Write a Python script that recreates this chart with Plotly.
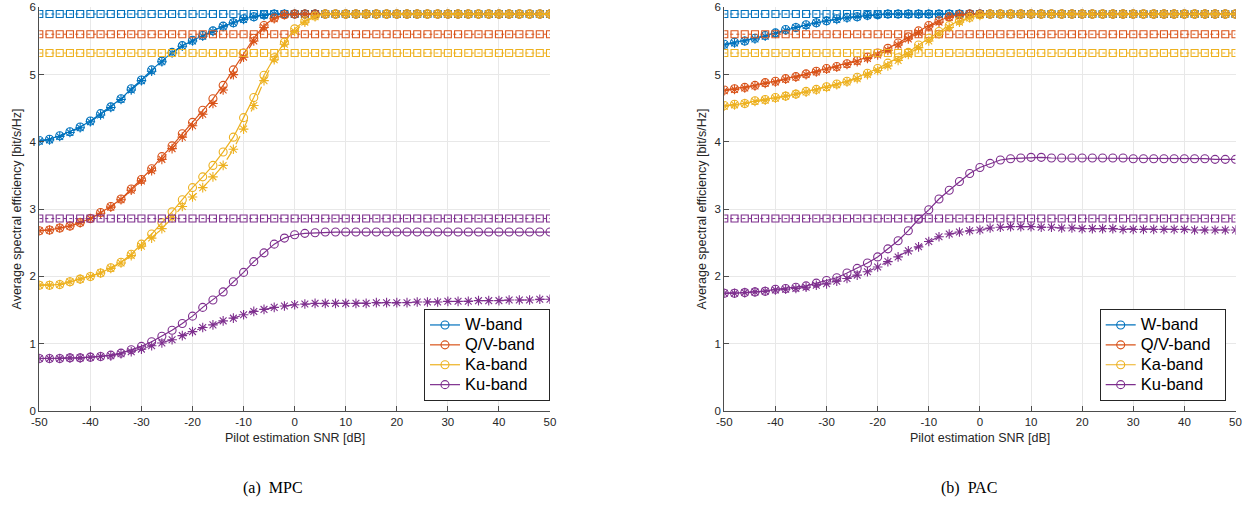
import plotly.graph_objects as go

# Pilot estimation SNR grid [dB]
SNR_DB = list(range(-50, 51, 2))
TICK_X = [-50, -40, -30, -20, -10, 0, 10, 20, 30, 40, 50]
TICK_X_TEXT = ["-50", "-40", "-30", "-20", "-10", "0", "10", "20", "30", "40", "50"]
TICK_Y = [0, 1, 2, 3, 4, 5, 6]

BANDS = ["W-band", "Q/V-band", "Ka-band", "Ku-band"]
COLORS = ["#0072BD", "#D95319", "#EDB120", "#7E2F8E"]

# Perfect-CSI reference level per band [bit/s/Hz]
BOUND = [5.90, 5.60, 5.32, 2.86]

# ---- (a) MPC ----
MPC_O_W = [4.02, 4.04, 4.09, 4.15, 4.22, 4.31, 4.42, 4.52, 4.64, 4.79, 4.92, 5.07, 5.20, 5.33,
           5.43, 5.51, 5.58, 5.65, 5.72, 5.77, 5.83, 5.86, 5.89] + [5.90] * 28
MPC_X_W = [4.01, 4.03, 4.08, 4.14, 4.21, 4.30, 4.40, 4.51, 4.63, 4.77, 4.91, 5.05, 5.19, 5.32,
           5.42, 5.50, 5.57, 5.64, 5.71, 5.77, 5.82, 5.86, 5.88] + [5.90] * 28
MPC_O_QV = [2.68, 2.69, 2.72, 2.75, 2.80, 2.86, 2.95, 3.04, 3.15, 3.30, 3.44, 3.60, 3.78, 3.94,
            4.12, 4.29, 4.47, 4.64, 4.84, 5.07, 5.32, 5.54, 5.73, 5.84, 5.89] + [5.90] * 26
MPC_X_QV = [2.68, 2.69, 2.72, 2.75, 2.80, 2.86, 2.94, 3.03, 3.14, 3.28, 3.42, 3.57, 3.74, 3.90,
            4.07, 4.24, 4.41, 4.57, 4.77, 5.00, 5.26, 5.50, 5.70, 5.83, 5.89] + [5.90] * 26
MPC_O_KA = [1.87, 1.87, 1.88, 1.92, 1.96, 2.00, 2.05, 2.13, 2.21, 2.33, 2.48, 2.63, 2.80, 2.96,
            3.14, 3.32, 3.48, 3.65, 3.85, 4.07, 4.36, 4.66, 4.99, 5.25, 5.48, 5.68, 5.80,
            5.87] + [5.90] * 23
MPC_X_KA = [1.87, 1.87, 1.88, 1.92, 1.96, 2.00, 2.05, 2.12, 2.20, 2.31, 2.45, 2.57, 2.71, 2.87,
            3.04, 3.18, 3.32, 3.48, 3.65, 3.89, 4.19, 4.54, 4.91, 5.22, 5.45, 5.64, 5.78,
            5.86] + [5.90] * 23
MPC_O_KU = [0.78, 0.78, 0.78, 0.79, 0.79, 0.80, 0.81, 0.83, 0.86, 0.91, 0.96, 1.03, 1.11, 1.20,
            1.30, 1.41, 1.54, 1.65, 1.77, 1.92, 2.06, 2.22, 2.35, 2.48, 2.57, 2.62, 2.64,
            2.65] + [2.66] * 23
MPC_X_KU = [0.78, 0.78, 0.78, 0.79, 0.79, 0.80, 0.81, 0.82, 0.85, 0.88, 0.92, 0.97, 1.01, 1.06,
            1.12, 1.18, 1.24, 1.28, 1.34, 1.38, 1.43, 1.48, 1.51, 1.54, 1.56, 1.58,
            1.59, 1.60, 1.60, 1.60, 1.60, 1.60, 1.60, 1.61, 1.61, 1.61, 1.61, 1.62, 1.62,
            1.62, 1.63, 1.63, 1.63, 1.64, 1.64, 1.64, 1.65, 1.65, 1.65, 1.66, 1.66]

# ---- (b) PAC ----
PAC_O_W = [5.45, 5.48, 5.50, 5.54, 5.58, 5.62, 5.67, 5.70, 5.74, 5.77, 5.80, 5.83, 5.85, 5.86,
           5.88, 5.89] + [5.90] * 35
PAC_X_W = [5.44, 5.47, 5.50, 5.53, 5.57, 5.61, 5.66, 5.70, 5.73, 5.77, 5.80, 5.82, 5.84, 5.86,
           5.88, 5.89] + [5.90] * 35
PAC_O_QV = [4.77, 4.79, 4.81, 4.84, 4.88, 4.90, 4.94, 4.97, 5.01, 5.05, 5.09, 5.12, 5.16, 5.21,
            5.26, 5.32, 5.39, 5.47, 5.56, 5.65, 5.73, 5.80, 5.86, 5.89] + [5.90] * 27
PAC_X_QV = [4.76, 4.78, 4.80, 4.83, 4.87, 4.89, 4.93, 4.96, 5.00, 5.04, 5.08, 5.11, 5.15, 5.19,
            5.24, 5.29, 5.36, 5.44, 5.53, 5.62, 5.71, 5.78, 5.85, 5.88] + [5.90] * 27
PAC_O_KA = [4.54, 4.56, 4.57, 4.61, 4.63, 4.66, 4.68, 4.71, 4.75, 4.78, 4.82, 4.86, 4.90, 4.96,
            5.02, 5.09, 5.17, 5.25, 5.33, 5.44, 5.54, 5.64, 5.73, 5.80, 5.85, 5.89] + [5.90] * 25
PAC_X_KA = [4.53, 4.55, 4.57, 4.60, 4.62, 4.65, 4.68, 4.71, 4.74, 4.77, 4.81, 4.85, 4.89, 4.94,
            5.00, 5.06, 5.13, 5.21, 5.30, 5.40, 5.50, 5.60, 5.70, 5.78, 5.84, 5.88] + [5.90] * 25
PAC_O_KU = [1.75, 1.75, 1.76, 1.77, 1.78, 1.81, 1.82, 1.84, 1.86, 1.90, 1.94, 1.98, 2.05, 2.12,
            2.20, 2.29, 2.41, 2.53, 2.68, 2.85, 2.99, 3.15, 3.28, 3.41, 3.53, 3.62,
            3.68, 3.73, 3.75, 3.76, 3.77, 3.77, 3.76, 3.76, 3.76, 3.76, 3.76, 3.76, 3.76,
            3.76, 3.75, 3.75, 3.75, 3.75, 3.75, 3.75, 3.75, 3.75, 3.74, 3.74, 3.74]
PAC_X_KU = [1.75, 1.75, 1.76, 1.77, 1.78, 1.80, 1.81, 1.82, 1.84, 1.87, 1.89, 1.93, 1.97, 2.02,
            2.07, 2.14, 2.22, 2.29, 2.38, 2.44, 2.52, 2.59, 2.63, 2.66, 2.68, 2.69,
            2.72, 2.73, 2.74, 2.74, 2.74, 2.73, 2.73, 2.72, 2.72, 2.71, 2.71, 2.71, 2.71,
            2.70, 2.70, 2.70, 2.70, 2.70, 2.70, 2.70, 2.69, 2.69, 2.69, 2.69, 2.69]

PANELS = [
    dict(x="x", y="y", legend="legend",
         circ=[MPC_O_W, MPC_O_QV, MPC_O_KA, MPC_O_KU],
         star=[MPC_X_W, MPC_X_QV, MPC_X_KA, MPC_X_KU]),
    dict(x="x2", y="y2", legend="legend2",
         circ=[PAC_O_W, PAC_O_QV, PAC_O_KA, PAC_O_KU],
         star=[PAC_X_W, PAC_X_QV, PAC_X_KA, PAC_X_KU]),
]

W, H = 1244, 505
FONT = "Liberation Sans, Arial, Helvetica, sans-serif"
TXT = "#262626"
LEGEND_TEXT_PX = 16.5

fig = go.Figure()
for p in PANELS:
    for b, name in enumerate(BANDS):
        c = COLORS[b]
        fig.add_trace(go.Scatter(
            x=SNR_DB, y=[BOUND[b]] * len(SNR_DB), xaxis=p["x"], yaxis=p["y"],
            mode="lines+markers", line=dict(color=c, width=1, dash="dot"),
            marker=dict(symbol="square-open", size=7, color=c, line=dict(width=1.1)),
            showlegend=False, hoverinfo="skip"))
        fig.add_trace(go.Scatter(
            x=SNR_DB, y=p["circ"][b], xaxis=p["x"], yaxis=p["y"],
            name=f'<span style="font-size:{LEGEND_TEXT_PX}px">{name}&nbsp;&nbsp;</span>',
            mode="lines+markers", line=dict(color=c, width=1.2),
            marker=dict(symbol="circle-open", size=8, color=c, line=dict(width=1.1)),
            legend=p["legend"], showlegend=True))
        fig.add_trace(go.Scatter(
            x=SNR_DB, y=p["star"][b], xaxis=p["x"], yaxis=p["y"],
            mode="lines+markers", line=dict(color=c, width=1.2, dash="dash"),
            marker=dict(symbol="asterisk-open", size=8, color=c, line=dict(width=1.1, color=c)),
            showlegend=False))

top, bot = 7.3, 411.0
ydom = [1 - bot / H, 1 - top / H]
xdoms = [[39.3 / W, 550.0 / W], [724.3 / W, 1235.5 / W]]

def xax(dom, anchor):
    return dict(domain=dom, anchor=anchor, range=[-50, 50], tickvals=TICK_X, ticktext=TICK_X_TEXT,
                showgrid=True, gridcolor="#E8E8E8", gridwidth=1, zeroline=False, automargin=False,
                showline=True, linecolor="#4D4D4D", linewidth=1, ticks="inside", ticklen=5,
                tickcolor="#4D4D4D", tickfont=dict(family=FONT, size=11.5, color=TXT))

def yax(anchor):
    return dict(domain=ydom, anchor=anchor, range=[0, 6], tickvals=TICK_Y, automargin=False,
                showgrid=True, gridcolor="#E8E8E8", gridwidth=1, zeroline=False,
                showline=True, linecolor="#4D4D4D", linewidth=1, ticks="inside", ticklen=5,
                tickcolor="#4D4D4D", tickfont=dict(family=FONT, size=11.5, color=TXT))

def leg(xr):
    return dict(x=xr / W, xanchor="right", y=1 - 401 / H, yanchor="bottom",
                bgcolor="white", bordercolor="#262626", borderwidth=1,
                font=dict(family=FONT, size=13, color="black"),
                tracegroupgap=0, itemwidth=30)

fig.update_layout(
    width=W, height=H, margin=dict(l=0, r=0, t=0, b=0, pad=0, autoexpand=False),
    paper_bgcolor="white", plot_bgcolor="white",
    xaxis=xax(xdoms[0], "y"), yaxis=yax("x"),
    xaxis2=xax(xdoms[1], "y2"), yaxis2=yax("x2"),
    legend=leg(550.0), legend2=leg(1225.7),
)

annotations = []
for i, cap in enumerate(["(a)  MPC", "(b)  PAC"]):
    d = xdoms[i]
    cx = (d[0] + d[1]) / 2
    annotations.append(dict(text="Pilot estimation SNR [dB]", x=cx, y=1 - 438 / H, xref="paper",
                            yref="paper", showarrow=False, xanchor="center", yanchor="middle",
                            font=dict(family=FONT, size=12.5, color=TXT)))
    annotations.append(dict(text="Average spectral efficiency [bit/s/Hz]", x=d[0] - 22 / W,
                            y=(ydom[0] + ydom[1]) / 2, xref="paper", yref="paper", textangle=-90,
                            showarrow=False, xanchor="center", yanchor="middle",
                            font=dict(family=FONT, size=12.5, color=TXT)))
    annotations.append(dict(text=cap, x=[273 / W, 969 / W][i], y=1 - 488 / H, xref="paper",
                            yref="paper", showarrow=False, xanchor="center", yanchor="middle",
                            font=dict(family="Liberation Serif, Times New Roman, serif",
                                      size=16, color="black")))
fig.update_layout(annotations=annotations)

fig.write_html("out.html")
